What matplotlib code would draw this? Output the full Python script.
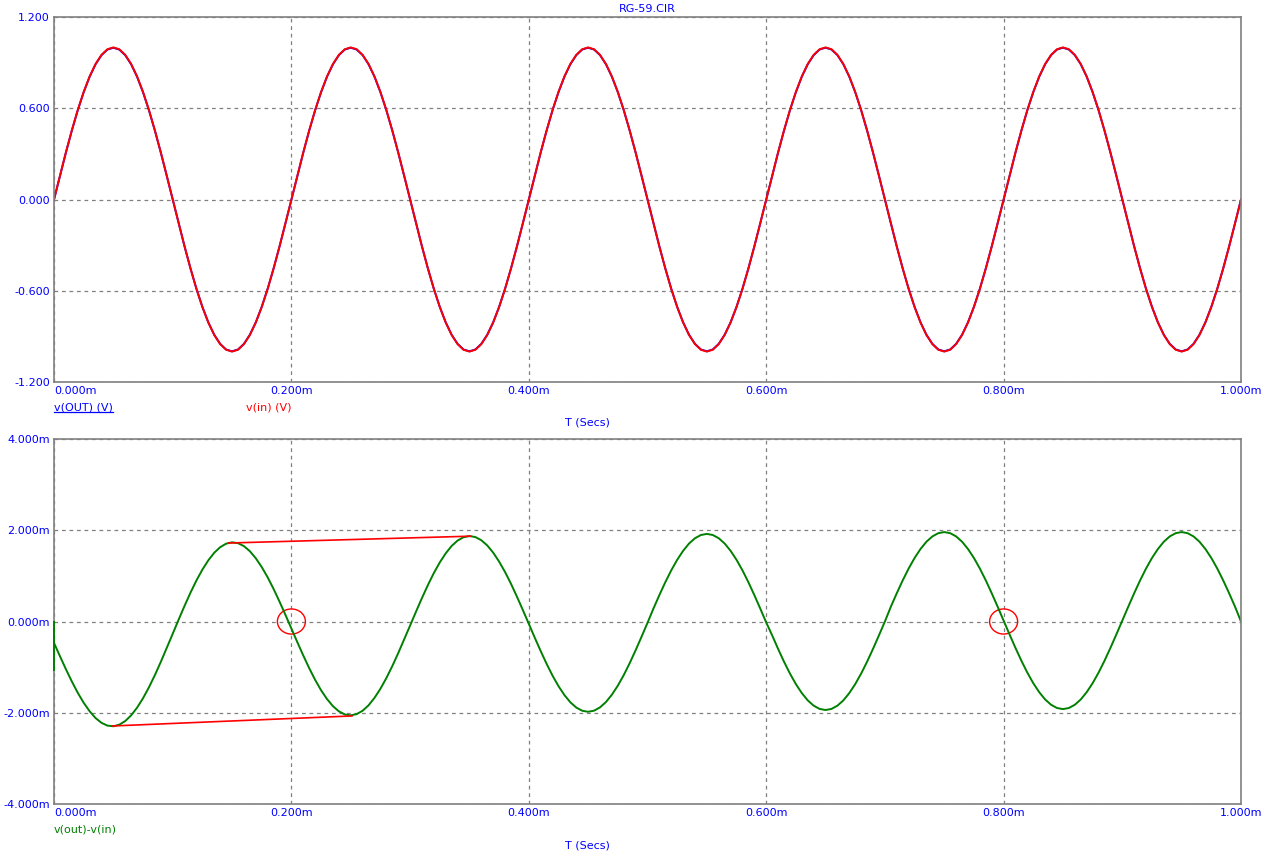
import numpy as np
import matplotlib
matplotlib.use("Agg")
import matplotlib.pyplot as plt
from matplotlib.patches import Ellipse
from matplotlib.lines import Line2D
from matplotlib.ticker import FixedLocator, FuncFormatter

# traces every 0.005 ms (time in ms)
t_ms = np.linspace(0.0, 1.0, 201)

# v(in) in volts
v_in = [
    0.000, 0.156, 0.309, 0.454, 0.588, 0.707, 0.809, 0.891, 0.951, 0.988,
    1.000, 0.988, 0.951, 0.891, 0.809, 0.707, 0.588, 0.454, 0.309, 0.156,
    0.000, -0.156, -0.309, -0.454, -0.588, -0.707, -0.809, -0.891, -0.951, -0.988,
    -1.000, -0.988, -0.951, -0.891, -0.809, -0.707, -0.588, -0.454, -0.309, -0.156,
    0.000, 0.156, 0.309, 0.454, 0.588, 0.707, 0.809, 0.891, 0.951, 0.988,
    1.000, 0.988, 0.951, 0.891, 0.809, 0.707, 0.588, 0.454, 0.309, 0.156,
    0.000, -0.156, -0.309, -0.454, -0.588, -0.707, -0.809, -0.891, -0.951, -0.988,
    -1.000, -0.988, -0.951, -0.891, -0.809, -0.707, -0.588, -0.454, -0.309, -0.156,
    0.000, 0.156, 0.309, 0.454, 0.588, 0.707, 0.809, 0.891, 0.951, 0.988,
    1.000, 0.988, 0.951, 0.891, 0.809, 0.707, 0.588, 0.454, 0.309, 0.156,
    0.000, -0.156, -0.309, -0.454, -0.588, -0.707, -0.809, -0.891, -0.951, -0.988,
    -1.000, -0.988, -0.951, -0.891, -0.809, -0.707, -0.588, -0.454, -0.309, -0.156,
    0.000, 0.156, 0.309, 0.454, 0.588, 0.707, 0.809, 0.891, 0.951, 0.988,
    1.000, 0.988, 0.951, 0.891, 0.809, 0.707, 0.588, 0.454, 0.309, 0.156,
    0.000, -0.156, -0.309, -0.454, -0.588, -0.707, -0.809, -0.891, -0.951, -0.988,
    -1.000, -0.988, -0.951, -0.891, -0.809, -0.707, -0.588, -0.454, -0.309, -0.156,
    0.000, 0.156, 0.309, 0.454, 0.588, 0.707, 0.809, 0.891, 0.951, 0.988,
    1.000, 0.988, 0.951, 0.891, 0.809, 0.707, 0.588, 0.454, 0.309, 0.156,
    0.000, -0.156, -0.309, -0.454, -0.588, -0.707, -0.809, -0.891, -0.951, -0.988,
    -1.000, -0.988, -0.951, -0.891, -0.809, -0.707, -0.588, -0.454, -0.309, -0.156,
    0.000,
]

# v(out)-v(in) in mV
v_diff = [
    -0.470, -0.760, -1.044, -1.313, -1.562, -1.781, -1.967, -2.116, -2.221, -2.282,
    -2.296, -2.262, -2.182, -2.057, -1.888, -1.682, -1.442, -1.174, -0.884, -0.580,
    -0.270, 0.041, 0.344, 0.633, 0.900, 1.137, 1.341, 1.507, 1.629, 1.706,
    1.736, 1.717, 1.652, 1.541, 1.386, 1.194, 0.968, 0.713, 0.435, 0.144,
    -0.155, -0.453, -0.745, -1.023, -1.279, -1.507, -1.700, -1.856, -1.969, -2.037,
    -2.057, -2.030, -1.956, -1.837, -1.674, -1.474, -1.240, -0.977, -0.693, -0.394,
    -0.089, 0.217, 0.515, 0.799, 1.062, 1.295, 1.494, 1.656, 1.774, 1.847,
    1.873, 1.851, 1.781, 1.667, 1.509, 1.313, 1.084, 0.826, 0.545, 0.251,
    -0.051, -0.353, -0.647, -0.928, -1.187, -1.416, -1.612, -1.771, -1.886, -1.956,
    -1.979, -1.954, -1.882, -1.765, -1.604, -1.406, -1.174, -0.913, -0.630, -0.333,
    -0.029, 0.283, 0.579, 0.861, 1.121, 1.352, 1.549, 1.709, 1.825, 1.896,
    1.920, 1.896, 1.825, 1.709, 1.549, 1.352, 1.121, 0.861, 0.579, 0.283,
    -0.020, -0.303, -0.599, -0.881, -1.141, -1.372, -1.569, -1.729, -1.845, -1.916,
    -1.940, -1.916, -1.845, -1.729, -1.569, -1.372, -1.141, -0.881, -0.599, -0.303,
    0.000, 0.323, 0.619, 0.901, 1.161, 1.392, 1.589, 1.749, 1.865, 1.936,
    1.960, 1.936, 1.865, 1.749, 1.589, 1.392, 1.161, 0.901, 0.619, 0.323,
    0.020, -0.283, -0.579, -0.861, -1.121, -1.352, -1.549, -1.709, -1.825, -1.896,
    -1.920, -1.896, -1.825, -1.709, -1.549, -1.352, -1.121, -0.861, -0.579, -0.283,
    0.020, 0.323, 0.619, 0.901, 1.161, 1.392, 1.589, 1.749, 1.865, 1.936,
    1.960, 1.936, 1.865, 1.749, 1.589, 1.392, 1.161, 0.901, 0.619, 0.323,
    0.000,
]
# first simulation step: a jump at t=0 before the trace settles
start_t = [0.0, 0.0]
start_v = [0.0, -1.06]

# slope markers between peaks (ms, mV)
upper_t = [0.147, 0.351]
upper_v = [1.72, 1.87]
lower_t = [0.049, 0.251]
lower_v = [-2.29, -2.07]

# zero-crossing markers
circle_t = [0.2, 0.8]
circle_v = [0.0, 0.0]

x_ticks = [0.0, 0.2, 0.4, 0.6, 0.8, 1.0]
top_ticks = [-1.2, -0.6, 0.0, 0.6, 1.2]
bot_ticks = [-4.0, -2.0, 0.0, 2.0, 4.0]

BLUE = '#0000FF'
RED = '#FF0000'
GREEN = '#008000'
GRAY = '#808080'

plt.rcParams['font.family'] = 'DejaVu Sans'
plt.rcParams['font.size'] = 8

fig = plt.figure(figsize=(12.76, 8.6), dpi=100)
W, H = 1276.0, 860.0
x0, x1 = 54 / W, 1241 / W
ax_top = fig.add_axes([x0, 1 - 382 / H, x1 - x0, 365 / H])
ax_bot = fig.add_axes([x0, 1 - 804 / H, x1 - x0, 365 / H])


def style_axes(ax, yticks, yfmt):
    ax.set_xlim(0, 1.0)
    ax.set_ylim(yticks[0], yticks[-1])
    ax.xaxis.set_major_locator(FixedLocator(x_ticks))
    ax.yaxis.set_major_locator(FixedLocator(yticks))
    ax.yaxis.set_major_formatter(FuncFormatter(lambda v, p: yfmt % v))
    ax.set_xticklabels([])
    ax.tick_params(length=0, colors=BLUE, labelsize=8, pad=3)
    for s in ax.spines.values():
        s.set_color(GRAY)
        s.set_linewidth(1.2)
    ax.grid(True, color=GRAY, linestyle=(0, (3, 3)), linewidth=0.9)
    ax.set_axisbelow(True)
    # x labels: first one left aligned, the rest centred on the grid line
    for xt in x_ticks:
        ha = 'left' if xt == 0 else 'center'
        ax.annotate('%.3fm' % xt, (xt, 0), xycoords=('data', 'axes fraction'),
                    xytext=(0, -3), textcoords='offset points',
                    ha=ha, va='top', color=BLUE, fontsize=8)


style_axes(ax_top, top_ticks, '%.3f')
style_axes(ax_bot, bot_ticks, '%.3fm')

v_out = np.array(v_in) + np.array(v_diff) * 1e-3
ax_top.plot(t_ms, v_out, color=BLUE, lw=1.4)
ax_top.plot(t_ms, v_in, color=RED, lw=1.4)

ax_bot.plot(start_t, start_v, color=GREEN, lw=1.4, zorder=3, clip_on=False)
ax_bot.plot(t_ms, v_diff, color=GREEN, lw=1.4)
ax_bot.plot(upper_t, upper_v, color=RED, lw=1.2)
ax_bot.plot(lower_t, lower_v, color=RED, lw=1.2)
for ct, cv in zip(circle_t, circle_v):
    ax_bot.add_patch(Ellipse((ct, cv), 0.0236, 0.55, fill=False, edgecolor=RED, lw=1.0))

# titles and trace labels
fig.text(647 / W, 1 - 9 / H, 'RG-59.CIR', color=BLUE, ha='center', va='center', fontsize=8)
fig.text(587 / W, 1 - 423 / H, 'T (Secs)', color=BLUE, ha='center', va='center', fontsize=8)
fig.text(587 / W, 1 - 845 / H, 'T (Secs)', color=BLUE, ha='center', va='center', fontsize=8)
lab_out = fig.text(54 / W, 1 - 408 / H, 'v(OUT) (V)', color=BLUE, ha='left', va='center', fontsize=8)
fig.text(246 / W, 1 - 408 / H, 'v(in) (V)', color=RED, ha='left', va='center', fontsize=8)
fig.text(54 / W, 1 - 830 / H, 'v(out)-v(in)', color=GREEN, ha='left', va='center', fontsize=8)

# underline the selected trace label
fig.canvas.draw()
bb = lab_out.get_window_extent()
fig.add_artist(Line2D([bb.x0 / W, bb.x1 / W], [(bb.y0 + 0.5) / H] * 2, color=BLUE, lw=0.9))

fig.savefig('out.png', dpi=100)
